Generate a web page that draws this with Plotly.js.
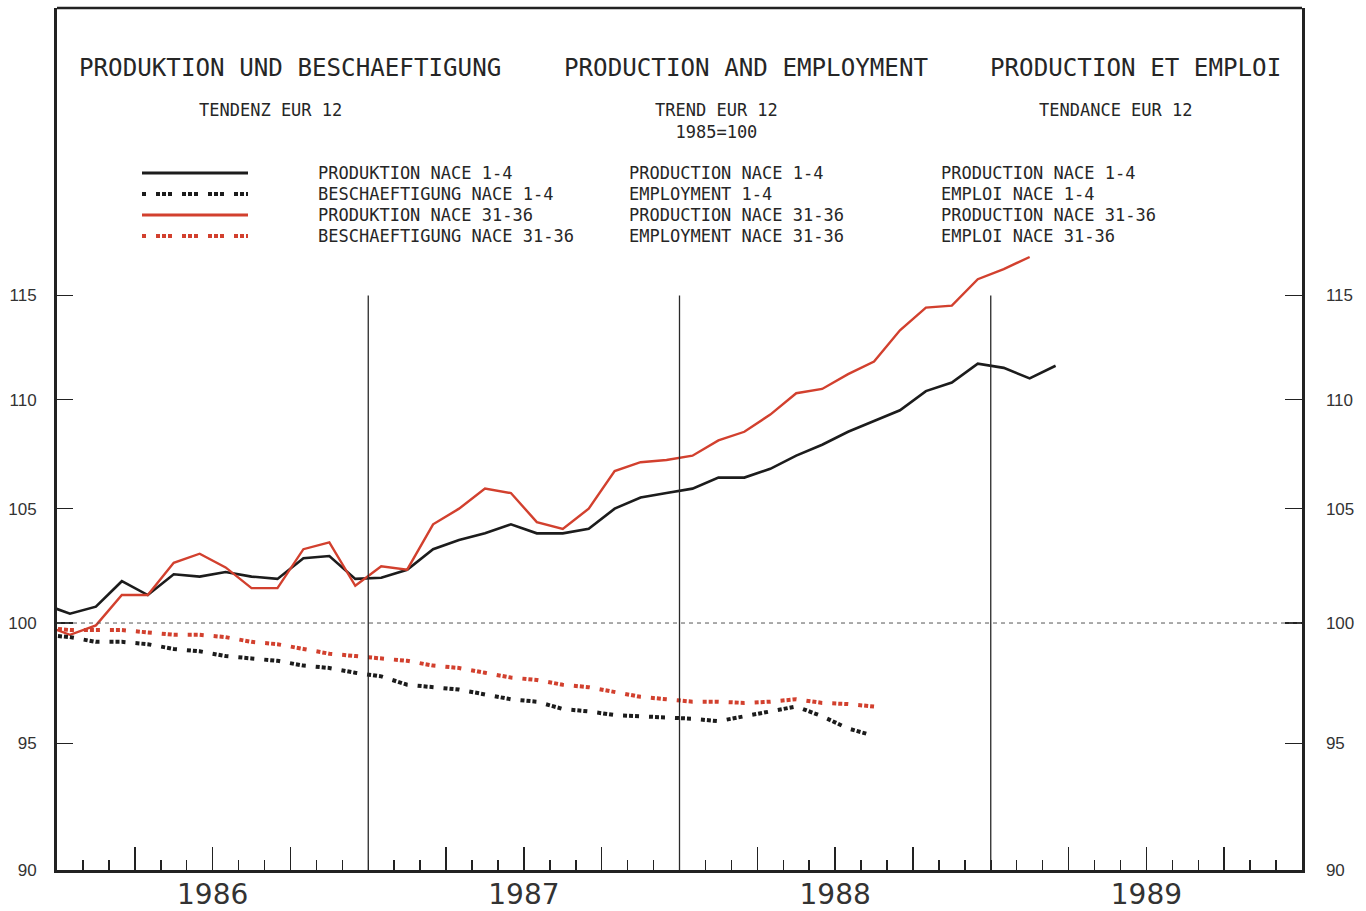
<!DOCTYPE html>
<html>
<head>
<meta charset="utf-8">
<script src="https://cdn.plot.ly/plotly-3.0.1.min.js"></script>
<style>
  html, body { margin: 0; padding: 0; background: #ffffff; }
  #chart { width: 1366px; height: 911px; }
</style>
</head>
<body>
<div id="chart"></div>
<script>
// ---------------- DATA ----------------
const months = [
  '1985-12',
  '1986-01','1986-02','1986-03','1986-04','1986-05','1986-06','1986-07','1986-08','1986-09','1986-10','1986-11','1986-12',
  '1987-01','1987-02','1987-03','1987-04','1987-05','1987-06','1987-07','1987-08','1987-09','1987-10','1987-11','1987-12',
  '1988-01','1988-02','1988-03','1988-04','1988-05','1988-06','1988-07','1988-08','1988-09','1988-10','1988-11','1988-12',
  '1989-01','1989-02','1989-03'
];

// PRODUKTION NACE 1-4 (black, solid)
const prodNace14 = [
  100.8,
  100.4, 100.7, 101.8, 101.2, 102.1, 102.0, 102.2, 102.0, 101.9, 102.8, 102.9, 101.9,
  101.95, 102.3, 103.2, 103.6, 103.9, 104.3, 103.9, 103.9, 104.1, 105.0, 105.5, 105.7,
  105.9, 106.4, 106.4, 106.8, 107.4, 107.9, 108.5, 109.0, 109.5, 110.4, 110.8, 111.7,
  111.5, 111.0, 111.6
];

// PRODUKTION NACE 31-36 (red, solid)
const prodNace3136 = [
  99.9,
  99.5, 99.9, 101.2, 101.2, 102.6, 103.0, 102.4, 101.5, 101.5, 103.2, 103.5, 101.6,
  102.45, 102.3, 104.3, 105.0, 105.9, 105.7, 104.4, 104.1, 105.0, 106.7, 107.1, 107.2,
  107.4, 108.1, 108.5, 109.3, 110.3, 110.5, 111.2, 111.8, 113.3, 114.4, 114.5, 115.8,
  116.3, 116.9
];

// BESCHAEFTIGUNG NACE 1-4 (black, dotted)
const empNace14 = [
  99.5,
  99.4, 99.2, 99.2, 99.1, 98.9, 98.8, 98.6, 98.5, 98.4, 98.2, 98.1, 97.9,
  97.75, 97.4, 97.3, 97.2, 97.0, 96.8, 96.7, 96.4, 96.3, 96.15, 96.1, 96.05,
  96.0, 95.9, 96.1, 96.3, 96.5, 96.1, 95.6, 95.3
];

// BESCHAEFTIGUNG NACE 31-36 (red, dotted)
const empNace3136 = [
  99.8,
  99.7, 99.7, 99.7, 99.6, 99.5, 99.5, 99.4, 99.2, 99.1, 98.9, 98.7, 98.6,
  98.5, 98.4, 98.2, 98.1, 97.9, 97.7, 97.6, 97.4, 97.3, 97.1, 96.9, 96.8,
  96.7, 96.7, 96.65, 96.7, 96.8, 96.65, 96.6, 96.5
];

const years = [1986, 1987, 1988, 1989];
const yearLabels = ['1986', '1987', '1988', '1989'];
const yTickVals = [90, 95, 100, 105, 110, 115];
const yTickText = ['90', '95', '100', '105', '110', '115'];

const seriesNamesDe = ['PRODUKTION NACE 1-4', 'BESCHAEFTIGUNG NACE 1-4', 'PRODUKTION NACE 31-36', 'BESCHAEFTIGUNG NACE 31-36'];
const seriesNamesEn = ['PRODUCTION NACE 1-4', 'EMPLOYMENT 1-4', 'PRODUCTION NACE 31-36', 'EMPLOYMENT NACE 31-36'];
const seriesNamesFr = ['PRODUCTION NACE 1-4', 'EMPLOI NACE 1-4', 'PRODUCTION NACE 31-36', 'EMPLOI NACE 31-36'];
const titleTexts = ['PRODUKTION UND BESCHAEFTIGUNG', 'PRODUCTION AND EMPLOYMENT', 'PRODUCTION ET EMPLOI'];
const subtitleTexts = ['TENDENZ EUR 12', 'TREND EUR 12<br>1985=100', 'TENDANCE EUR 12'];

// ---------------- STYLE ----------------
const BLACK = '#1c1c1c';
const RED = '#d2402e';
const DOTS = '4px,10px,4px,2px,4px,2px';
const styles = [
  {color: BLACK, width: 2.6, dash: 'solid', yaxis: 'y'},
  {color: BLACK, width: 4, dash: DOTS, yaxis: 'y2'},
  {color: RED, width: 2.4, dash: 'solid', yaxis: 'y'},
  {color: RED, width: 4, dash: DOTS, yaxis: 'y2'}
];

function monthToX(s) {
  const p = s.split('-').map(Number);
  return p[0] + (p[1] - 0.5) / 12;
}
const allX = months.map(monthToX);
const seriesValues = [prodNace14, empNace14, prodNace3136, empNace3136];

const traces = seriesValues.map((vals, i) => ({
  type: 'scatter',
  mode: 'lines',
  name: seriesNamesDe[i],
  x: allX.slice(0, vals.length),
  y: vals,
  xaxis: 'x',
  yaxis: styles[i].yaxis,
  line: {color: styles[i].color, width: styles[i].width, dash: styles[i].dash},
  hoverinfo: 'x+y'
}));

// frame in pixels
const L = 57, R = 1302, T = 8, B = 870;
const px = x => (x - L) / (R - L);
const py = y => (B - y) / (B - T);

// x axis ticks: quarters (long) + months (short, minor)
const quarterVals = [], quarterText = [];
years.forEach((yr, k) => {
  [0.25, 0.5, 0.75].forEach(q => {
    quarterVals.push(yr + q);
    quarterText.push(q === 0.5 ? yearLabels[k] : '');
  });
});

const textFont = {family: 'DejaVu Sans Mono', color: '#262626'};
const annotations = [];
const titleX = [290, 746, 1135];
titleTexts.forEach((t, i) => annotations.push({
  xref: 'paper', yref: 'paper', x: px(titleX[i]), y: py(68), xanchor: 'center', yanchor: 'middle',
  text: t, showarrow: false, font: Object.assign({size: 24.2}, textFont)
}));
const subX = [270, 716, 1116];
subtitleTexts.forEach((t, i) => annotations.push({
  xref: 'paper', yref: 'paper', x: px(subX[i]), y: py(98), xanchor: 'center', yanchor: 'top',
  text: t, showarrow: false, align: 'center', font: Object.assign({size: 17}, textFont)
}));
const legendRowsY = [173, 194, 215, 236];
[[seriesNamesDe, 316], [seriesNamesEn, 627], [seriesNamesFr, 939]].forEach(([names, xpx]) => {
  names.forEach((n, i) => annotations.push({
    xref: 'paper', yref: 'paper', x: px(xpx), y: py(legendRowsY[i]), xanchor: 'left', yanchor: 'middle',
    text: n, showarrow: false, font: Object.assign({size: 17}, textFont)
  }));
});

const shapes = [];
// year separators
years.slice(1).forEach(yr => shapes.push({
  type: 'line', xref: 'x', yref: 'y', x0: yr, x1: yr, y0: 90, y1: 115,
  line: {color: '#2a2a2a', width: 1.3}
}));
// 100 reference line
shapes.push({
  type: 'line', xref: 'paper', yref: 'y', x0: 0, x1: 1, y0: 100, y1: 100,
  line: {color: '#555', width: 1, dash: '4px,4px'}
});
// top frame
shapes.push({
  type: 'line', xref: 'paper', yref: 'paper', x0: 0, x1: 1, y0: 1, y1: 1,
  line: {color: '#222', width: 2.5}
});
// legend swatches
styles.forEach((s, i) => shapes.push({
  type: 'line', xref: 'paper', yref: 'paper', x0: px(142), x1: px(248), y0: py(legendRowsY[i]), y1: py(legendRowsY[i]),
  line: {color: s.color, width: s.width === 4 ? 4 : 3, dash: s.dash}
}));

const yCommon = {
  type: 'log',
  range: [Math.log10(90), Math.log10(130)],
  tickmode: 'array', tickvals: yTickVals, ticktext: yTickText,
  ticks: 'inside', tickwidth: 1.5, tickcolor: '#222',
  showgrid: false, zeroline: false, showline: true, linecolor: '#222',
  tickfont: {family: 'Liberation Sans', size: 17, color: '#333'},
  fixedrange: true, automargin: false
};

const layout = {
  width: 1366, height: 911,
  margin: {l: L, r: 1366 - R, t: T, b: 911 - B, pad: 0},
  paper_bgcolor: '#ffffff', plot_bgcolor: '#ffffff',
  showlegend: false,
  xaxis: {
    range: [1986, 1990],
    tickmode: 'array', tickvals: quarterVals, ticktext: quarterText,
    ticks: 'inside', ticklen: 23, tickwidth: 1.5, tickcolor: '#222',
    minor: {tick0: 1986, dtick: 1 / 12, ticks: 'inside', ticklen: 10, tickwidth: 1.5, tickcolor: '#222', showgrid: false},
    showline: true, linewidth: 3, linecolor: '#222',
    showgrid: false, zeroline: false,
    tickfont: {family: 'DejaVu Sans', size: 28, color: '#333'},
    ticklabelstandoff: -3,
    fixedrange: true, automargin: false
  },
  yaxis: Object.assign({}, yCommon, {side: 'left', ticklen: 16, linewidth: 3, ticklabelstandoff: 14}),
  yaxis2: Object.assign({}, yCommon, {side: 'right', overlaying: 'y', anchor: 'x', ticklen: 17, linewidth: 2.5, ticklabelstandoff: 18}),
  annotations: annotations,
  shapes: shapes
};

Plotly.newPlot('chart', traces, layout, {displayModeBar: false, staticPlot: true});
</script>
</body>
</html>
